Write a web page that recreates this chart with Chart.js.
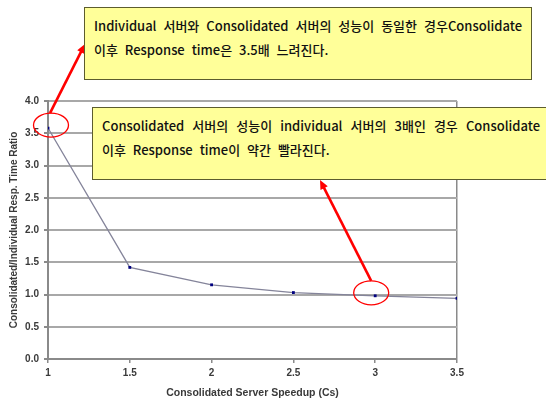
<!DOCTYPE html>
<html>
<head>
<meta charset="utf-8">
<script src="https://cdn.jsdelivr.net/npm/chart.js@4"></script>
<style>
  html, body {
    margin: 0;
    padding: 0;
    background: #fff;
    overflow: hidden;
  }
  #wrap {
    position: relative;
    width: 546px;
    height: 401px;
  }
  .note {
    position: absolute;
    box-sizing: border-box;
    background: #ffff99;
    border: 1px solid #5c5c2e;
    font-family: "Noto Sans CJK KR", sans-serif;
    font-size: 13px;
    font-weight: 500;
    word-spacing: 4px;
    color: #111;
    padding: 6px 9px 0 9px;
  }
  .note div {
    height: 24px;
    line-height: 24px;
    white-space: nowrap;
  }
  .note .full {
    text-align: justify;
    text-align-last: justify;
    white-space: normal;
    word-spacing: 0;
  }
</style>
</head>
<body>
<div id="wrap">
  <canvas id="ratioChart" width="546" height="401"></canvas>

  <div class="note" style="left:84px; top:7px; width:448px; height:73px;">
    <div class="full">Individual 서버와 Consolidated 서버의 성능이 동일한 경우Consolidate</div>
    <div>이후 Response time은 3.5배 느려진다.</div>
  </div>

  <div class="note" style="left:92px; top:107px; width:466px; height:73px; padding-right:17px;">
    <div class="full">Consolidated 서버의 성능이 individual 서버의 3배인 경우 Consolidate</div>
    <div>이후 Response time이 약간 빨라진다.</div>
  </div>
</div>

<script>
const speedups = [1, 1.5, 2, 2.5, 3, 3.5];
const ratios = [3.58, 1.42, 1.15, 1.03, 0.98, 0.94];

// callouts: which point gets circled and where the arrow ends
const circledIndex = [0, 4];
const arrowTips = [[85, 44], [320, 180]];

const gridGray = "#a8a8a8";
const axisGray = "#8a8a8a";
const textGray = "#3a3a3a";

// red ellipses round the noted points, arrows up to the boxes
const calloutPlugin = {
  id: "callouts",
  afterDraw(chart) {
    const ctx = chart.ctx;
    const xs = chart.scales.x;
    const ys = chart.scales.y;

    ctx.save();
    ctx.strokeStyle = "#ff0000";
    ctx.fillStyle = "#ff0000";

    circledIndex.forEach((idx, i) => {
      const px = xs.getPixelForValue(speedups[idx]);
      const py = ys.getPixelForValue(ratios[idx]);
      const cx = px + (i === 0 ? 3 : -4);
      const cy = py - 3;
      const rx = 17.5;
      const ry = 12;

      ctx.lineWidth = 1.3;
      ctx.beginPath();
      ctx.ellipse(cx, cy, rx, ry, 0, 0, Math.PI * 2);
      ctx.stroke();

      // arrow from the top of the ellipse to the box
      const sx = i === 0 ? cx - 1 : cx;
      const sy = cy - ry;
      const [tx, ty] = arrowTips[i];
      const ang = Math.atan2(ty - sy, tx - sx);
      const head = 10;

      ctx.lineWidth = 2.6;
      ctx.beginPath();
      ctx.moveTo(sx, sy);
      ctx.lineTo(
        tx - Math.cos(ang) * head * 0.8,
        ty - Math.sin(ang) * head * 0.8
      );
      ctx.stroke();

      ctx.beginPath();
      ctx.moveTo(tx, ty);
      ctx.lineTo(
        tx - head * Math.cos(ang - 0.42),
        ty - head * Math.sin(ang - 0.42)
      );
      ctx.lineTo(
        tx - head * Math.cos(ang + 0.42),
        ty - head * Math.sin(ang + 0.42)
      );
      ctx.closePath();
      ctx.fill();
    });

    ctx.restore();
  }
};

new Chart(document.getElementById("ratioChart"), {
  type: "line",
  data: {
    datasets: [{
      data: speedups.map((s, i) => ({ x: s, y: ratios[i] })),
      borderColor: "#84849a",
      borderWidth: 1.3,
      pointStyle: "rect",
      pointRadius: 2,
      pointBackgroundColor: "#000080",
      pointBorderColor: "#000080",
      pointBorderWidth: 0,
      tension: 0,
      fill: false
    }]
  },
  options: {
    responsive: false,
    animation: false,
    events: [],
    layout: {
      padding: { top: 101, right: 89, left: 0, bottom: 0 }
    },
    plugins: {
      legend: { display: false },
      tooltip: { enabled: false }
    },
    scales: {
      x: {
        type: "linear",
        min: 1,
        max: 3.5,
        afterFit(scale) {
          scale.height = 42;
        },
        ticks: {
          stepSize: 0.5,
          padding: 4,
          color: textGray,
          font: { family: "Liberation Sans", size: 10, weight: "bold" },
          callback: v => String(v)
        },
        grid: {
          drawOnChartArea: true,
          tickLength: 4,
          lineWidth: 1.5,
          color: c => (c.tick && c.tick.value === 3.5 ? axisGray : "transparent"),
          tickColor: axisGray
        },
        border: { display: true, color: axisGray, width: 2 },
        title: {
          display: true,
          text: "Consolidated Server Speedup (Cs)",
          color: textGray,
          font: { family: "Liberation Sans", size: 10.5, weight: "bold" },
          padding: { top: 0, bottom: 2 }
        }
      },
      y: {
        min: 0,
        max: 4,
        afterFit(scale) {
          scale.width = 48;
        },
        ticks: {
          stepSize: 0.5,
          padding: 5,
          color: textGray,
          font: { family: "Liberation Sans", size: 10, weight: "bold" },
          callback: v => v.toFixed(1)
        },
        grid: {
          color: gridGray,
          lineWidth: 2,
          tickLength: 4,
          tickColor: axisGray
        },
        border: { display: true, color: axisGray, width: 2 },
        title: {
          display: true,
          text: "Consolidated/Individual Resp. Time Ratio",
          color: textGray,
          font: { family: "Liberation Sans", size: 10, weight: "bold" },
          padding: { top: 8, bottom: 0 }
        }
      }
    }
  },
  plugins: [calloutPlugin]
});
</script>
</body>
</html>
